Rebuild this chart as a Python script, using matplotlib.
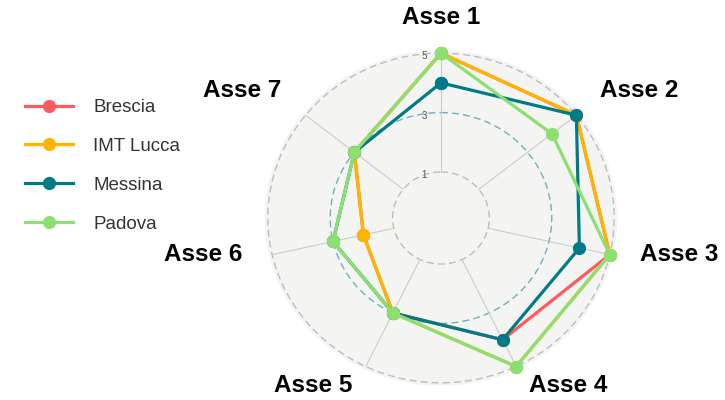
import numpy as np
import matplotlib
matplotlib.use("Agg")
import matplotlib.pyplot as plt
from matplotlib.transforms import offset_copy

plt.rcParams["font.family"] = ["Liberation Sans", "DejaVu Sans"]

# data
axis_labels = ["Asse 1", "Asse 2", "Asse 3", "Asse 4", "Asse 5", "Asse 6", "Asse 7"]
groups = ["Brescia", "IMT Lucca", "Messina", "Padova"]
brescia = [5, 5, 5, 4, 3, 2, 3]
imt_lucca = [5, 5, 5, 5, 3, 2, 3]
messina = [4, 5, 4, 4, 3, 3, 3]
padova = [5, 4, 5, 5, 3, 3, 3]
grid_values = [1, 3, 5]

colors = ["#FF5A5F", "#FFB400", "#007A87", "#8CE071"]
CENTRE = -0.55      # value sitting at the middle of the plot (ggradar style)
R_MAX = 5.1
LABEL_R = 5.98

fig = plt.figure(figsize=(7.25, 4.0), dpi=100)
ax = fig.add_axes([0.3651, 0.0355, 0.4863, 0.839], projection="polar")
ax.set_aspect("auto")
ax.set_theta_zero_location("N")
ax.set_theta_direction(-1)
ax.set_ylim(CENTRE, R_MAX)
ax.grid(False)
ax.set_xticks([])
ax.set_yticks([])
ax.spines["polar"].set_visible(False)
ax.set_facecolor("#f4f4f3")

n = len(axis_labels)
angles = [2 * np.pi * k / n for k in range(n)]

# grid circles
theta = np.linspace(0, 2 * np.pi, 400)
for v in grid_values:
    if v == 3:
        col, alpha = "#007A87", 0.55
    else:
        col, alpha = "#bdbdbd", 1.0
    ax.plot(theta, np.full_like(theta, v), color=col, alpha=alpha, lw=1.0,
            ls=(0, (5, 3)), clip_on=False, zorder=1)
    ax.annotate(str(v), xy=(0, v), xytext=(-17, -3), textcoords="offset pixels",
                ha="center", va="center", fontsize=7, color="#555555")

# spokes
for a in angles:
    ax.plot([a, a], [grid_values[0], grid_values[-1]], color="#cccccc", lw=0.8, zorder=1)

# series
handles = []
for name, vals, c in zip(groups, (brescia, imt_lucca, messina, padova), colors):
    th = angles + angles[:1]
    rr = vals + vals[:1]
    ln, = ax.plot(th, rr, color=c, lw=2.3, marker="o", ms=8.5, clip_on=False,
                  zorder=3, label=name)
    handles.append(ln)

# axis labels, nudged up a little like in the original
lab_tr = offset_copy(ax.transData, fig=fig, x=0, y=7, units="dots")
for a, lab in zip(angles, axis_labels):
    s = np.sin(a)
    ha = "center" if abs(s) < 0.01 else ("left" if s > 0 else "right")
    ax.text(a, LABEL_R, lab, ha=ha, va="center", fontsize=17.5, fontweight="bold",
            color="black", clip_on=False, transform=lab_tr)

fig.legend(handles, groups, loc="upper left", bbox_to_anchor=(25 / 725, 1 - 99 / 400),
           frameon=False, fontsize=13.5, handlelength=2.56, handletextpad=1.07,
           labelspacing=1.16, borderaxespad=0, borderpad=0, labelcolor="#333333")

fig.savefig("out.png", dpi=100)
